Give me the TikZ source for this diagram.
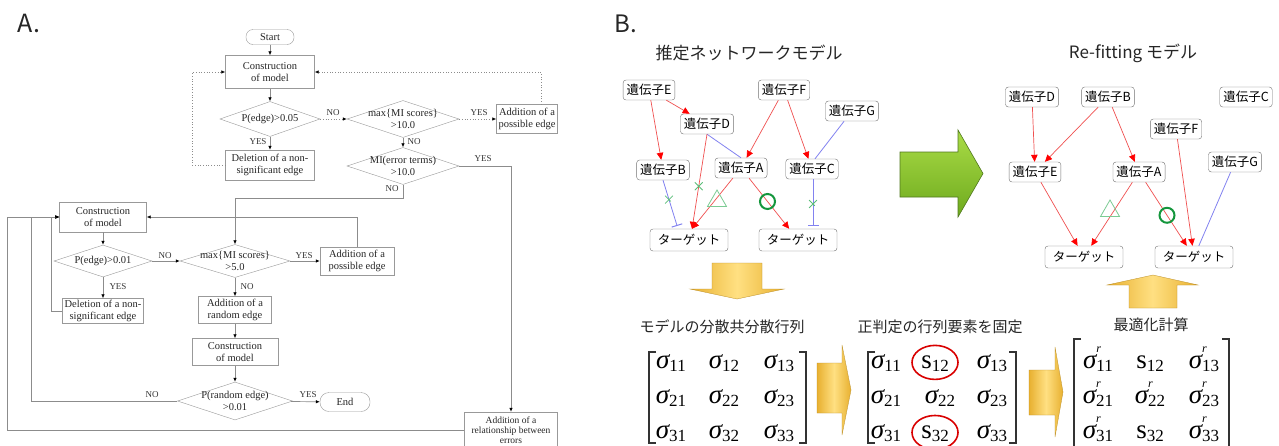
\documentclass[tikz,border=0pt]{standalone}
\usepackage{fontspec}
\setmainfont{Liberation Serif}
\newfontfamily\jp{Noto Sans CJK JP}
\usetikzlibrary{arrows.meta,shapes.geometric,shapes.misc}
\definecolor{fred}{RGB}{240,80,80}
\definecolor{fblue}{RGB}{130,130,240}
\definecolor{lgreen}{RGB}{90,190,120}
\definecolor{dgreen}{RGB}{20,150,60}
\definecolor{gold1}{RGB}{255,224,130}
\definecolor{gold2}{RGB}{232,176,48}
\definecolor{grn1}{RGB}{170,220,70}
\definecolor{grn2}{RGB}{110,170,30}
\definecolor{grnb}{RGB}{80,120,30}
\newcommand\sgm[1]{{\itshape σ}\raisebox{-0.13em}{\fontsize{17}{17}\selectfont #1}}
\newcommand\sgr[1]{{\itshape σ}\makebox[0pt][l]{\raisebox{0.58em}{\fontsize{12}{12}\selectfont\itshape r}}\raisebox{-0.13em}{\fontsize{17}{17}\selectfont #1}}
\newcommand\smt[1]{s\raisebox{-0.13em}{\fontsize{17}{17}\selectfont #1}}
\tikzset{
  fbox/.style={draw=black!40, fill=white, align=center, inner sep=1pt, font=\fontsize{10.5}{12}\selectfont, text=black!85},
  fdia/.style={diamond, draw=black!40, fill=white, inner sep=0pt},
  ftxt/.style={align=center, inner sep=0pt, font=\fontsize{10.5}{12}\selectfont, text=black!85},
  lbl/.style={inner sep=0pt, font=\fontsize{9}{9}\selectfont, text=black!80},
  fl/.style={draw=black!45, line width=0.7pt},
  fa/.style={fl, -{Latex[length=4pt,width=3.5pt,black]}},
  fd/.style={fa, dotted},
  gn/.style={rounded corners=3pt, draw=black!55, fill=white, font=\jp\fontsize{12.5}{13}\selectfont, inner xsep=3.5pt, inner ysep=2pt, minimum height=20pt},
  tg/.style={gn, minimum width=78pt, minimum height=22pt},
  ra/.style={draw=fred, line width=0.7pt, -{Triangle[length=7pt,width=6.5pt,color=red]}},
  bl/.style={draw=fblue, line width=0.8pt},
  inh/.style={bl, -{Bar[width=11pt,line width=1pt]}, shorten >=3pt},
  gx/.style={cross out, draw=lgreen, minimum size=7pt, inner sep=0pt, line width=0.8pt},
  gc/.style={circle, draw=dgreen, line width=2pt, minimum size=15pt, inner sep=0pt},
  gt/.style={regular polygon, regular polygon sides=3, draw=lgreen!80, line width=0.8pt, minimum size=22pt, inner sep=0pt},
  jt/.style={font=\jp\fontsize{15}{15}\selectfont, inner sep=0pt, text=black!85},
  mel/.style={anchor=base, inner sep=0pt, font=\fontsize{27}{27}\selectfont},
  brk/.style={draw=black!80, line width=1.5pt},
  gold/.style={left color=gold2, right color=gold2, middle color=gold1, draw=gold2!80!black, line width=0.3pt},
}
\begin{document}
\begin{tikzpicture}[x=1pt,y=-1pt]
\useasboundingbox (0,0) rectangle (1279,445);
\fill[white] (0,0) rectangle (1279,445);

% ---------- A ----------
\node[font=\jp\fontsize{25}{25}\selectfont, inner sep=0pt, text=black!85] (labA) at (29,23) {A.};

\node[fbox, rounded corners=7pt, minimum width=48pt, minimum height=15pt] (start) at (270,37) {Start};
\node[fbox, minimum width=89pt, minimum height=33pt] (c1) at (270,72) {Construction\\of model};
\node[fdia, minimum width=100pt, minimum height=35pt, label={[ftxt]center:{P(edge)>0.05}}] (d1) at (270,119) {};
\node[fbox, minimum width=89pt, minimum height=30pt] (del1) at (270,165) {Deletion of a non-\\significant edge};
\node[fdia, minimum width=112pt, minimum height=37pt, label={[ftxt]center:{max\{MI scores\}\\>10.0}}] (d2) at (403,119) {};
\node[fbox, minimum width=61pt, minimum height=29pt] (add1) at (527,119) {Addition of a\\possible edge};
\node[fdia, minimum width=112pt, minimum height=37pt, label={[ftxt]center:{MI(error terms)\\>10.0}}] (d3) at (403,166) {};
\node[fbox, minimum width=93pt, minimum height=36pt, font=\fontsize{9.5}{10}\selectfont] (rel) at (511,430) {Addition of a\\relationship between\\errors};

\node[fbox, minimum width=87pt, minimum height=30pt] (c2) at (103,217) {Construction\\of model};
\node[fdia, minimum width=98pt, minimum height=32pt, label={[ftxt]center:{P(edge)>0.01}}] (d4) at (103,261) {};
\node[fdia, minimum width=110pt, minimum height=33pt, label={[ftxt]center:{max\{MI scores\}\\>5.0}}] (d5) at (235,261) {};
\node[fbox, minimum width=74pt, minimum height=28pt] (add2) at (357,261) {Addition of a\\possible edge};
\node[fbox, minimum width=81pt, minimum height=25pt] (del2) at (103,311) {Deletion of a non-\\significant edge};
\node[fbox, minimum width=73pt, minimum height=27pt] (addr) at (235,310) {Addition of a\\random edge};
\node[fbox, minimum width=86pt, minimum height=27pt] (c3) at (235,352) {Construction\\of model};
\node[fdia, minimum width=115pt, minimum height=38pt, label={[ftxt]center:{P(random edge)\\>0.01}}] (d6) at (235,401) {};
\node[fbox, rounded corners=9pt, minimum width=50pt, minimum height=19pt] (endn) at (345,402) {End};

\draw[fa] (start) -- (c1);
\draw[fa] (c1) -- (d1);
\draw[fa] (d1) -- (del1);
\draw[fd] (del1.west) -| ([xshift=-33pt]c1.west) -- (c1.west);
\draw[fd] (d1.east) -- (d2.west);
\draw[fd] (d2.east) -- (add1.west);
\draw[fd] ([xshift=14pt]add1.north) |- (c1.east);
\draw[fa] (d2) -- (d3);
\draw[fa] (d3.east) -| (rel.north);
\draw[fa] (d3.south) -- ++(0,14) -| (d5.north);
\draw[fa] (c2) -- (d4);
\draw[fa] (d4) -- (d5);
\draw[fa] (d5) -- (add2);
\draw[fa] (add2.north) |- (c2.east);
\draw[fa] (d4) -- (del2);
\draw[fa] (del2.west) -| ([xshift=-8pt]c2.west) -- (c2.west);
\draw[fa] (d5) -- (addr);
\draw[fa] (addr) -- (c3);
\draw[fa] (c3) -- (d6);
\draw[fa] (d6.west) -| ([xshift=-28pt]c2.west) -- (c2.west);
\draw[fa] (d6) -- (endn);
\draw[fa] (rel.west) -| ([xshift=-52pt]c2.west) -- (c2.west);

\node[lbl] (l1) at (333,113) {NO};
\node[lbl] (l2) at (479,113) {YES};
\node[lbl] (l3) at (258,142) {YES};
\node[lbl] (l4) at (414,142) {NO};
\node[lbl] (l5) at (483,159) {YES};
\node[lbl] (l6) at (392,189) {NO};
\node[lbl] (l7) at (165,256) {NO};
\node[lbl] (l8) at (304,256) {YES};
\node[lbl] (l9) at (118,287) {YES};
\node[lbl] (l10) at (247,287) {NO};
\node[lbl] (l11) at (152,395) {NO};
\node[lbl] (l12) at (308,395) {YES};

% ---------- B ----------
\node[font=\jp\fontsize{24}{24}\selectfont, inner sep=0pt, text=black!85] (labB) at (626,24) {B.};
\node[font=\jp\fontsize{17}{17}\selectfont, inner sep=0pt, text=black!85] (t1) at (749,53) {推定ネットワークモデル};
\node[font=\jp\fontsize{17}{17}\selectfont, inner sep=0pt, text=black!85] (t2) at (1133,53) {Re-fitting モデル};

% left network
\node[gn] (E) at (649,90) {遺伝子E};
\node[gn] (D) at (707,124) {遺伝子D};
\node[gn] (F) at (784,90) {遺伝子F};
\node[gn] (G) at (852,111) {遺伝子G};
\node[gn] (B) at (663,170) {遺伝子B};
\node[gn] (A) at (741,168) {遺伝子A};
\node[gn] (C) at (812,169) {遺伝子C};
\node[tg] (T1) at (689,240) {ターゲット};
\node[tg] (T2) at (798,240) {ターゲット};

\draw[ra] (E) -- (D);
\draw[ra] (E) -- (B);
\draw[ra] (F) -- (A);
\draw[ra] (F) -- (C);
\draw[bl] (D.south) -- (A.north);
\draw[bl] (G) -- ([xshift=3pt]C.north);
\draw[ra] (D.south) -- node[gx, pos=0.55] (x1) {} ([xshift=3pt]T1.north);
\draw[ra] (A) -- ([xshift=3pt]T1.north);
\draw[ra] (A) -- node[gc, pos=0.46] (o1) {} (T2);
\draw[inh] (B.south) -- node[gx, pos=0.4] (x2) {} ([xshift=-11pt]T1.north);
\draw[inh] ([xshift=1pt]C.south) -- node[gx, pos=0.5] (x3) {} ([xshift=1pt]C.south |- T2.north);
\node[gt] (tr1) at (717,201) {};

% green arrow
\path[top color=grn1, bottom color=grn2, draw=grnb, line width=0.6pt]
  (900,152) -- (958,152) -- (958,130) -- (983,173.5) -- (958,217) -- (958,197) -- (900,197) -- cycle;

% right network
\node[gn] (D2) at (1032,97) {遺伝子D};
\node[gn] (B2) at (1108,97) {遺伝子B};
\node[gn] (C2) at (1246,97) {遺伝子C};
\node[gn] (F2) at (1176,129) {遺伝子F};
\node[gn] (G2) at (1235,162) {遺伝子G};
\node[gn] (E2) at (1035,172) {遺伝子E};
\node[gn] (A2) at (1139,172) {遺伝子A};
\node[tg] (U1) at (1084,257) {ターゲット};
\node[tg] (U2) at (1194,257) {ターゲット};

\draw[ra] (D2) -- (E2);
\draw[ra] (B2) -- (E2);
\draw[ra] (B2) -- (A2);
\draw[ra] (E2) -- (U1);
\draw[ra] (A2) -- (U1);
\draw[ra] (A2) -- node[gc, pos=0.52] (o2) {} (U2);
\draw[ra] (F2) -- (U2);
\draw[bl] (G2) -- (U2);
\node[gt] (tr2) at (1110,211) {};

% yellow arrows
\path[gold] (712,263) -- (762,263) -- (762,289) -- (784,289) -- (737,299) -- (690,289) -- (712,289) -- cycle;
\path[gold] (1153,275) -- (1198,285) -- (1177,285) -- (1177,308) -- (1129,308) -- (1129,285) -- (1107,285) -- cycle;
\path[gold] (817,363) -- (842,363) -- (842,345) -- (851,390) -- (842,435) -- (842,413) -- (817,413) -- cycle;
\path[gold] (1029,370) -- (1055,370) -- (1055,347) -- (1063,392) -- (1055,437) -- (1055,415) -- (1029,415) -- cycle;

% captions
\node[jt] (cap1) at (722,327) {モデルの分散共分散行列};
\node[jt] (cap2) at (940,327) {正判定の行列要素を固定};
\node[jt] (cap3) at (1151,325) {最適化計算};

% matrix 1
\draw[brk] (656,352) -- (649,352) -- (649,443) -- (656,443);
\draw[brk] (799,352) -- (806,352) -- (806,443) -- (799,443);
\node[mel] (m111) at (671,368) {\sgm{11}};
\node[mel] (m112) at (724,368) {\sgm{12}};
\node[mel] (m113) at (779,368) {\sgm{13}};
\node[mel] (m121) at (671,403) {\sgm{21}};
\node[mel] (m122) at (724,403) {\sgm{22}};
\node[mel] (m123) at (779,403) {\sgm{23}};
\node[mel] (m131) at (671,438) {\sgm{31}};
\node[mel] (m132) at (724,438) {\sgm{32}};
\node[mel] (m133) at (779,438) {\sgm{33}};

% matrix 2
\draw[brk] (875,352) -- (868,352) -- (868,443) -- (875,443);
\draw[brk] (1009,352) -- (1016,352) -- (1016,443) -- (1009,443);
\node[mel] (m211) at (886,368) {\sgm{11}};
\node[mel] (m212) at (935,368) {\smt{12}};
\node[mel] (m213) at (992,368) {\sgm{13}};
\node[mel] (m221) at (886,403) {\sgm{21}};
\node[mel] (m222) at (940,403) {\sgm{22}};
\node[mel] (m223) at (992,403) {\sgm{23}};
\node[mel] (m231) at (886,438) {\sgm{31}};
\node[mel] (m232) at (935,438) {\smt{32}};
\node[mel] (m233) at (992,438) {\sgm{33}};
\node[ellipse, draw=red!85!black, line width=1.6pt, minimum width=46pt, minimum height=34pt, inner sep=0pt] (r1) at ([yshift=1pt]m212.center) {};
\node[ellipse, draw=red!85!black, line width=1.6pt, minimum width=46pt, minimum height=34pt, inner sep=0pt] (r2) at ([yshift=1pt]m232.center) {};

% matrix 3
\draw[brk] (1081,339) -- (1074,339) -- (1074,447);
\draw[brk] (1222,339) -- (1229,339) -- (1229,447);
\node[mel] (m311) at (1098,368) {\sgr{11}};
\node[mel] (m312) at (1150,368) {\smt{12}};
\node[mel] (m313) at (1204,368) {\sgr{13}};
\node[mel] (m321) at (1098,403) {\sgr{21}};
\node[mel] (m322) at (1150,403) {\sgr{22}};
\node[mel] (m323) at (1204,403) {\sgr{23}};
\node[mel] (m331) at (1098,438) {\sgr{31}};
\node[mel] (m332) at (1150,438) {\smt{32}};
\node[mel] (m333) at (1204,438) {\sgr{33}};
\end{tikzpicture}
\end{document}
